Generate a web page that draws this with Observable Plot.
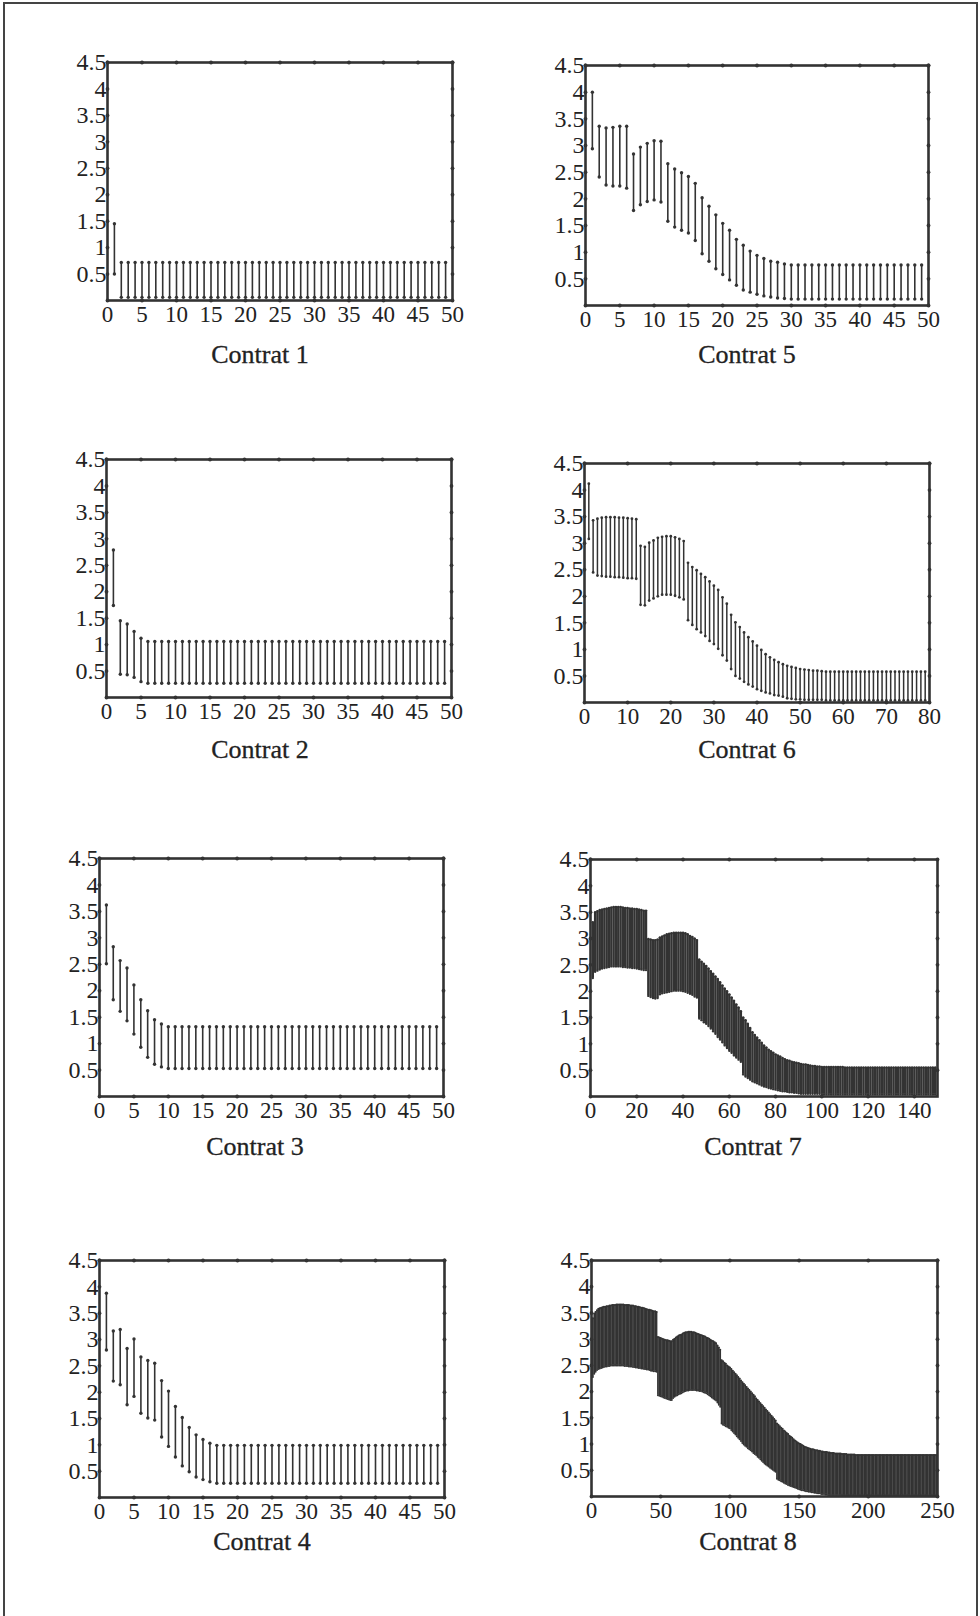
<!DOCTYPE html>
<html><head><meta charset="utf-8">
<script src="https://cdn.jsdelivr.net/npm/d3@7"></script>
<script src="https://cdn.jsdelivr.net/npm/@observablehq/plot@0.6"></script>
<style>
html,body{margin:0;padding:0;background:#fff;}
#page{position:relative;width:980px;height:1616px;overflow:hidden;font-family:"Liberation Serif","Times New Roman",serif;}
.panel{position:absolute;}
.cap{position:absolute;font-size:26px;color:#222;white-space:nowrap;transform:translate(-50%,-50%);line-height:1;-webkit-text-stroke:0.3px #222;}
.border{position:absolute;background:#444;}
</style></head><body><div id="page"></div>
<script>
// ---- tick labels ----
const yTicks = [0.5,1,1.5,2,2.5,3,3.5,4,4.5];
const xTicks50 = [0,5,10,15,20,25,30,35,40,45,50];
const xTicks80 = [0,10,20,30,40,50,60,70,80];
const xTicks150 = [0,20,40,60,80,100,120,140];
const xTicks250 = [0,50,100,150,200,250];

// ---- Contrat 1 (x = 1..49) ----
const c1Hi = [1.45,
 0.72,0.72,0.72,0.72,0.72,0.72,0.72,0.72,0.72,0.72,
 0.72,0.72,0.72,0.72,0.72,0.72,0.72,0.72,0.72,0.72,
 0.72,0.72,0.72,0.72,0.72,0.72,0.72,0.72,0.72,0.72,
 0.72,0.72,0.72,0.72,0.72,0.72,0.72,0.72,0.72,0.72,
 0.72,0.72,0.72,0.72,0.72,0.72,0.72,0.72];
const c1Lo = [0.50,
 0.06,0.06,0.06,0.06,0.06,0.06,0.06,0.06,0.06,0.06,
 0.06,0.06,0.06,0.06,0.06,0.06,0.06,0.06,0.06,0.06,
 0.06,0.06,0.06,0.06,0.06,0.06,0.06,0.06,0.06,0.06,
 0.06,0.06,0.06,0.06,0.06,0.06,0.06,0.06,0.06,0.06,
 0.06,0.06,0.06,0.06,0.06,0.06,0.06,0.06];

// ---- Contrat 2 ----
const c2Hi = [2.79,1.45,1.39,1.25,1.12,
 1.06,1.06,1.06,1.06,1.06,1.06,1.06,1.06,1.06,1.06,
 1.06,1.06,1.06,1.06,1.06,1.06,1.06,1.06,1.06,1.06,
 1.06,1.06,1.06,1.06,1.06,1.06,1.06,1.06,1.06,1.06,
 1.06,1.06,1.06,1.06,1.06,1.06,1.06,1.06,1.06,1.06,
 1.06,1.06,1.06,1.06];
const c2Lo = [1.74,0.44,0.43,0.38,0.30,
 0.27,0.27,0.27,0.27,0.27,0.27,0.27,0.27,0.27,0.27,
 0.27,0.27,0.27,0.27,0.27,0.27,0.27,0.27,0.27,0.27,
 0.27,0.27,0.27,0.27,0.27,0.27,0.27,0.27,0.27,0.27,
 0.27,0.27,0.27,0.27,0.27,0.27,0.27,0.27,0.27,0.27,
 0.27,0.27,0.27,0.27];

// ---- Contrat 3 ----
const c3Hi = [3.62,2.83,2.57,2.43,2.11,1.83,1.62,1.45,1.37,
 1.32,1.32,1.32,1.32,1.32,1.32,1.32,1.32,1.32,1.32,
 1.32,1.32,1.32,1.32,1.32,1.32,1.32,1.32,1.32,1.32,
 1.32,1.32,1.32,1.32,1.32,1.32,1.32,1.32,1.32,1.32,
 1.32,1.32,1.32,1.32,1.32,1.32,1.32,1.32,1.32,1.32];
const c3Lo = [2.51,1.83,1.61,1.43,1.18,0.93,0.74,0.61,0.56,
 0.53,0.53,0.53,0.53,0.53,0.53,0.53,0.53,0.53,0.53,
 0.53,0.53,0.53,0.53,0.53,0.53,0.53,0.53,0.53,0.53,
 0.53,0.53,0.53,0.53,0.53,0.53,0.53,0.53,0.53,0.53,
 0.53,0.53,0.53,0.53,0.53,0.53,0.53,0.53,0.53,0.53];

// ---- Contrat 4 ----
const c4Hi = [3.88,3.16,3.19,2.83,3.01,2.67,2.60,2.55,2.22,2.02,1.73,1.52,1.33,1.19,1.10,1.03,
 0.99,0.99,0.99,0.99,0.99,0.99,0.99,0.99,0.99,0.99,
 0.99,0.99,0.99,0.99,0.99,0.99,0.99,0.99,0.99,0.99,
 0.99,0.99,0.99,0.99,0.99,0.99,0.99,0.99,0.99,0.99,
 0.99,0.99,0.99];
const c4Lo = [2.80,2.21,2.14,1.76,1.92,1.60,1.51,1.47,1.15,0.97,0.77,0.60,0.49,0.39,0.34,0.30,
 0.27,0.27,0.27,0.27,0.27,0.27,0.27,0.27,0.27,0.27,
 0.27,0.27,0.27,0.27,0.27,0.27,0.27,0.27,0.27,0.27,
 0.27,0.27,0.27,0.27,0.27,0.27,0.27,0.27,0.27,0.27,
 0.27,0.27,0.27];

// ---- Contrat 5 ----
const c5Hi = [4.00,3.36,3.33,3.34,3.36,3.36,2.84,2.97,3.04,3.09,3.08,2.66,2.56,2.49,2.42,2.29,2.02,1.86,1.70,1.54,1.41,1.24,1.13,1.02,0.94,0.88,0.83,0.81,0.78,
 0.76,0.76,0.76,0.76,0.76,0.76,0.76,0.76,0.76,0.76,
 0.76,0.76,0.76,0.76,0.76,0.76,0.76,0.76,0.76,0.76];
const c5Lo = [2.94,2.41,2.26,2.24,2.24,2.20,1.78,1.89,1.95,1.98,1.94,1.58,1.47,1.41,1.36,1.22,0.97,0.83,0.69,0.58,0.48,0.38,0.29,0.25,0.21,0.18,0.16,0.14,0.13,
 0.12,0.12,0.12,0.12,0.12,0.12,0.12,0.12,0.12,0.12,
 0.12,0.12,0.12,0.12,0.12,0.12,0.12,0.12,0.12,0.12];

// ---- Contrat 6 (x = 1..79) ----
const c6Hi = [4.12,3.43,3.46,3.48,3.49,3.49,3.49,3.48,3.48,3.47,
 3.46,3.45,2.95,2.93,3.01,3.05,3.10,3.12,3.13,3.13,
 3.11,3.08,3.04,2.63,2.55,2.49,2.42,2.36,2.28,2.20,
 2.12,1.98,1.86,1.65,1.51,1.42,1.32,1.23,1.15,1.07,
 0.99,0.91,0.85,0.80,0.76,0.72,0.69,0.67,0.65,0.63,
 0.62,0.61,0.60,0.60,0.59,
 0.58,0.58,0.58,0.58,0.58,0.58,0.58,0.58,0.58,0.58,
 0.58,0.58,0.58,0.58,0.58,0.58,0.58,0.58,0.58,0.58,
 0.58,0.58,0.58,0.58];
const c6Lo = [3.08,2.45,2.39,2.38,2.37,2.37,2.36,2.36,2.35,2.34,
 2.34,2.33,1.84,1.83,1.92,1.96,2.00,2.03,2.03,2.03,
 2.01,1.98,1.94,1.55,1.46,1.38,1.32,1.25,1.16,1.10,
 1.01,0.89,0.79,0.63,0.50,0.45,0.39,0.34,0.30,0.25,
 0.22,0.19,0.17,0.14,0.13,0.11,0.08,0.07,0.06,0.06,
 0.05,0.05,0.05,0.05,0.05,
 0.04,0.04,0.04,0.04,0.04,0.04,0.04,0.04,0.04,0.04,
 0.04,0.04,0.04,0.04,0.04,0.04,0.04,0.04,0.04,0.04,
 0.04,0.04,0.04,0.04];

// ---- Contrat 7 (x = 1..149) ----
const c7Hi = [3.31,
 3.50,3.52,3.54,3.55,3.56,3.57,3.58,3.59,3.60,3.60,3.60,3.60,3.59,3.58,3.58,3.57,3.57,3.56,3.56,3.55,3.54,3.53,3.53,
 2.99,2.98,2.97,2.97,2.98,
 3.02,3.04,3.06,3.08,3.09,3.10,3.11,3.11,3.11,3.11,3.11,3.10,3.08,3.05,3.03,3.00,2.97,
 2.60,2.56,2.52,2.48,2.43,2.38,2.33,2.28,2.23,2.17,2.11,2.05,2.00,1.94,1.88,1.82,1.75,1.69,1.62,
 1.50,1.45,1.38,1.30,1.22,1.17,1.12,1.07,1.02,0.97,0.93,0.89,0.86,0.83,0.80,0.78,0.76,0.73,0.71,0.69,
 0.68,0.66,0.65,0.64,0.63,0.62,0.61,0.61,0.60,0.59,0.58,0.58,0.57,0.57,0.56,
 0.56,0.56,0.56,0.56,0.56,0.56,0.56,0.56,0.56,
 0.55,0.55,0.55,0.55,0.55,0.55,0.55,0.55,0.55,0.55,
 0.55,0.55,0.55,0.55,0.55,0.55,0.55,0.55,0.55,0.55,
 0.55,0.55,0.55,0.55,0.55,0.55,0.55,0.55,0.55,0.55,
 0.55,0.55,0.55,0.55,0.55,0.55,0.55,0.55,0.55,0.55];
const c7Lo = [2.25,
 2.37,2.39,2.41,2.43,2.44,2.45,2.46,2.47,2.47,2.47,2.47,2.47,2.46,2.46,2.45,2.45,2.44,2.44,2.43,2.42,2.41,2.40,2.40,
 1.91,1.89,1.87,1.86,1.87,
 1.94,1.96,1.97,1.98,1.99,2.00,2.01,2.01,2.01,2.01,2.00,1.99,1.97,1.95,1.93,1.90,1.88,
 1.48,1.45,1.41,1.38,1.34,1.29,1.24,1.19,1.13,1.08,1.03,0.97,0.92,0.87,0.83,0.78,0.74,0.70,0.66,
 0.42,0.38,0.35,0.32,0.29,0.27,0.25,0.23,0.21,0.19,0.18,0.16,0.15,0.14,0.13,0.12,0.11,0.10,0.10,0.09,
 0.08,0.08,0.07,0.07,0.06,
 0.05,0.05,0.05,0.05,0.05,0.05,0.05,0.05,0.05,
 0.04,0.04,0.04,0.04,0.04,0.04,0.04,0.04,0.04,0.04,
 0.04,0.04,0.04,0.04,0.04,0.04,0.04,0.04,0.04,0.04,
 0.04,0.04,0.04,0.04,0.04,0.04,0.04,0.04,0.04,0.04,
 0.04,0.04,0.04,0.04,0.04,0.04,0.04,0.04,0.04,0.04,
 0.04,0.04,0.04,0.04,0.04,0.04,0.04,0.04,0.04,0.04];

// ---- Contrat 8 (x = 1..249) ----
const c8Hi = [
 3.40,3.49,3.52,3.55,3.58,3.59,3.60,3.61,3.62,3.62,
 3.63,3.63,3.64,3.64,3.65,3.65,3.65,3.66,3.66,3.66,
 3.66,3.66,3.66,3.65,3.65,3.65,3.65,3.64,3.64,3.64,
 3.63,3.63,3.62,3.62,3.61,3.60,3.60,3.59,3.58,3.57,
 3.56,3.56,3.55,3.54,3.53,3.53,3.52,
 3.04,3.03,3.02,3.01,3.00,2.99,2.98,2.98,2.97,2.96,2.96,
 2.99,3.01,3.03,3.05,3.07,3.08,3.09,3.11,3.12,3.13,3.13,3.14,
 3.14,3.14,3.13,3.13,3.12,3.11,3.10,3.09,3.08,3.07,
 3.06,3.05,3.03,3.02,3.01,2.99,2.97,2.96,2.94,2.92,
 2.88,2.84,2.80,
 2.60,2.58,2.55,2.53,2.50,2.48,2.46,
 2.43,2.40,2.37,2.34,2.31,2.28,2.25,2.21,2.18,2.15,
 2.12,2.09,2.06,2.03,2.00,1.97,1.94,1.91,1.87,1.84,
 1.81,1.78,1.75,1.72,1.69,1.66,1.63,1.60,1.57,1.54,
 1.51,1.48,1.45,
 1.39,1.37,1.34,1.31,1.29,1.26,1.24,
 1.21,1.19,1.16,1.14,1.12,1.09,1.07,1.05,1.03,1.01,
 1.00,0.98,0.97,0.95,0.94,0.93,0.92,0.91,0.90,0.90,
 0.89,0.88,0.88,0.87,0.87,0.86,0.86,0.85,0.85,0.85,
 0.84,0.84,0.83,0.83,0.83,0.82,0.82,0.82,0.82,0.82,
 0.81,0.81,0.81,0.81,0.80,0.80,0.80,0.80,0.80,0.80,
 0.79,0.79,0.79,0.79,0.79,0.79,0.79,0.79,0.79,0.79,
 0.79,0.79,0.79,0.79,0.79,0.79,0.79,0.79,0.79,0.79,
 0.79,0.79,0.79,0.79,0.79,0.79,0.79,0.79,0.79,0.79,
 0.79,0.79,0.79,0.79,0.79,0.79,0.79,0.79,0.79,0.79,
 0.79,0.79,0.79,0.79,0.79,0.79,0.79,0.79,0.79,0.79,
 0.79,0.79,0.79,0.79,0.79,0.79,0.79,0.79,0.79];
const c8Lo = [
 2.28,2.34,2.38,2.41,2.43,2.44,2.45,2.46,2.47,2.48,
 2.48,2.49,2.49,2.50,2.50,2.50,2.50,2.50,2.50,2.50,
 2.50,2.50,2.50,2.49,2.49,2.49,2.48,2.48,2.48,2.47,
 2.47,2.46,2.46,2.45,2.45,2.44,2.44,2.43,2.43,2.42,
 2.42,2.41,2.40,2.40,2.39,2.39,2.38,
 1.93,1.92,1.91,1.90,1.89,1.88,1.87,1.86,1.85,1.84,1.84,
 1.88,1.90,1.92,1.93,1.95,1.96,1.97,1.99,2.00,2.01,2.02,2.02,
 2.03,2.03,2.03,2.03,2.03,2.02,2.02,2.01,2.01,2.00,
 1.99,1.98,1.97,1.95,1.93,1.91,1.89,1.87,1.85,1.83,
 1.79,1.75,1.71,
 1.39,1.37,1.36,1.34,1.33,1.31,1.30,
 1.27,1.24,1.21,1.18,1.15,1.12,1.09,1.06,1.02,0.99,
 0.97,0.95,0.92,0.90,0.88,0.86,0.83,0.81,0.79,0.76,
 0.74,0.71,0.68,0.66,0.63,0.61,0.59,0.57,0.55,0.53,
 0.51,0.49,0.47,
 0.34,0.32,0.31,0.29,0.28,0.26,0.25,
 0.24,0.22,0.21,0.20,0.19,0.18,0.17,0.16,0.15,0.14,
 0.13,0.12,0.12,0.11,0.10,0.10,0.09,0.09,0.08,0.08,
 0.07,0.07,0.06,0.06,0.06,0.05,0.05,0.05,0.04,0.04,
 0.03,0.03,0.03,0.03,0.03,0.03,0.03,0.03,0.03,0.03,
 0.02,0.02,0.02,0.02,0.02,0.02,0.02,0.02,0.02,0.02,
 0.02,0.02,0.02,0.02,0.02,0.02,0.02,0.02,0.02,0.02,
 0.02,0.02,0.02,0.02,0.02,0.02,0.02,0.02,0.02,0.02,
 0.02,0.02,0.02,0.02,0.02,0.02,0.02,0.02,0.02,0.02,
 0.02,0.02,0.02,0.02,0.02,0.02,0.02,0.02,0.02,0.02,
 0.02,0.02,0.02,0.02,0.02,0.02,0.02,0.02,0.02,0.02,
 0.02,0.02,0.02,0.02,0.02,0.02,0.02,0.02,0.02];

const titles = ["Contrat 1","Contrat 2","Contrat 3","Contrat 4","Contrat 5","Contrat 6","Contrat 7","Contrat 8"];

// ---- layout (positions / styles) ----
const panels = [
  {t:0, hi:c1Hi, lo:c1Lo, xMax:50,  xt:xTicks50,  f:[107,62,452,300],   lab:[260,355],  bw:1.6, r:1.7},
  {t:1, hi:c2Hi, lo:c2Lo, xMax:50,  xt:xTicks50,  f:[106,459,451,697],  lab:[260,750],  bw:1.6, r:1.7},
  {t:2, hi:c3Hi, lo:c3Lo, xMax:50,  xt:xTicks50,  f:[99,858,443,1096],  lab:[255,1147], bw:1.6, r:1.7},
  {t:3, hi:c4Hi, lo:c4Lo, xMax:50,  xt:xTicks50,  f:[99,1260,444,1497], lab:[262,1542], bw:1.6, r:1.7},
  {t:4, hi:c5Hi, lo:c5Lo, xMax:50,  xt:xTicks50,  f:[585,65,928,305],   lab:[747,355],  bw:1.6, r:1.7},
  {t:5, hi:c6Hi, lo:c6Lo, xMax:80,  xt:xTicks80,  f:[584,463,929,702],  lab:[747,750],  bw:1.5, r:1.4},
  {t:6, hi:c7Hi, lo:c7Lo, xMax:150, xt:xTicks150, f:[590,859,937,1096], lab:[753,1147], bw:2.4, r:1.2},
  {t:7, hi:c8Hi, lo:c8Lo, xMax:250, xt:xTicks250, f:[591,1260,937,1496],lab:[748,1542], bw:1.7, r:1.0}
];

const page = document.getElementById("page");
const INK = "#333";
const FSX = 23, FSY = 24;
const ml = 52, mr = 28, mt = 14, mb = 36;

for (const p of panels) {
  const [x0,y0,x1,y1] = p.f;
  const n = Math.min(p.hi.length, p.lo.length);
  const data = [];
  for (let i = 0; i < n; i++) data.push({x: i + 1, hi: p.hi[i], lo: p.lo[i]});
  const svg = Plot.plot({
    width: (x1 - x0) + ml + mr,
    height: (y1 - y0) + mt + mb,
    marginLeft: ml, marginRight: mr, marginTop: mt, marginBottom: mb,
    x: {domain: [0, p.xMax]},
    y: {domain: [0, 4.5]},
    style: {fontFamily: "'Liberation Serif', 'Times New Roman', serif", fontSize: FSX + "px", color: "#222", background: "transparent", overflow: "visible"},
    marks: [
      Plot.ruleX(data, {x: "x", y1: "lo", y2: "hi", stroke: INK, strokeWidth: p.bw}),
      Plot.dot(data, {x: "x", y: "hi", r: p.r, fill: INK}),
      Plot.dot(data, {x: "x", y: "lo", r: p.r, fill: INK}),
      Plot.frame({stroke: INK, strokeWidth: 2.6}),
      Plot.dot(p.xt, {x: d => d, y: () => 0, r: 1.9, fill: INK}),
      Plot.dot(p.xt, {x: d => d, y: () => 4.5, r: 1.9, fill: INK}),
      Plot.dot(yTicks, {x: () => 0, y: d => d, r: 1.9, fill: INK}),
      Plot.dot(yTicks, {x: () => p.xMax, y: d => d, r: 1.9, fill: INK}),
      Plot.axisX({ticks: p.xt, tickSize: 0, tickPadding: 5, label: null, tickFormat: d => String(d), fontSize: FSX, fill: "#222", stroke: "#222", strokeWidth: 0.3}),
      Plot.axisY({ticks: yTicks, tickSize: 0, tickPadding: 1, label: null, tickFormat: d => String(d), fontSize: FSY, fill: "#222", stroke: "#222", strokeWidth: 0.3})
    ]
  });
  const wrap = document.createElement("div");
  wrap.className = "panel";
  wrap.style.left = (x0 - ml) + "px";
  wrap.style.top = (y0 - mt) + "px";
  wrap.appendChild(svg);
  page.appendChild(wrap);

  const cap = document.createElement("div");
  cap.className = "cap";
  cap.textContent = titles[p.t];
  cap.style.left = p.lab[0] + "px";
  cap.style.top = p.lab[1] + "px";
  page.appendChild(cap);
}

// page frame (left, top, right edges of the scanned box)
for (const b of [
  {l:3, t:2, w:2, h:1614},
  {l:3, t:2, w:975, h:2},
  {l:976, t:2, w:2, h:1614}
]) {
  const d = document.createElement("div");
  d.className = "border";
  d.style.left = b.l + "px"; d.style.top = b.t + "px";
  d.style.width = b.w + "px"; d.style.height = b.h + "px";
  page.appendChild(d);
}
</script>
</body></html>
